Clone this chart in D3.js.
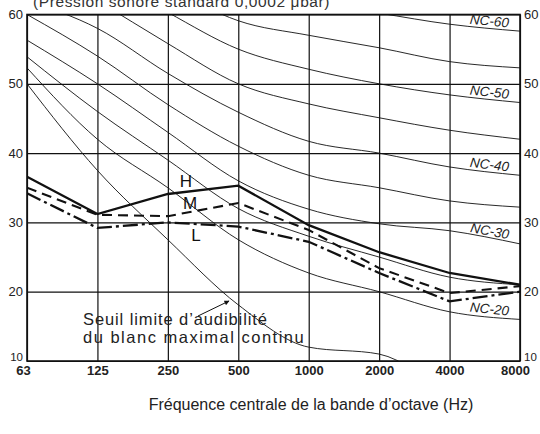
<!DOCTYPE html>
<html>
<head>
<meta charset="utf-8">
<script src="https://cdn.jsdelivr.net/npm/d3@7/dist/d3.min.js"></script>
<style>
html,body{margin:0;padding:0;background:#fff;}
svg{display:block;}
</style>
</head>
<body>
<svg id="chart" width="540" height="434"></svg>
<script>
// ---------- data ----------
const bands = ["63","125","250","500","1000","2000","4000","8000"];
const yTicks = [10,20,30,40,50,60];

const nc60 = [80, 74, 69, 65, 61.8, 60.2, 58.6, 57.6];
const nc55 = [76, 70, 64, 59.1, 57.0, 55.2, 53.2, 52.3];
const nc50 = [72, 66, 60.3, 55.0, 52.1, 50.0, 48.4, 47.3];
const nc45 = [68, 62, 55.8, 50.0, 47.1, 45.1, 43.3, 42.0];
const nc40 = [62, 58, 51.5, 45.9, 41.7, 40.0, 38.0, 36.8];
const nc35 = [60, 54, 47, 41, 36.8, 35.0, 33.1, 32.2];
const nc30 = [56.3, 50, 43, 36, 31.9, 29.8, 28.8, 26.9];
const nc25 = [53.9, 46, 39, 32, 28, 25, 22.1, 21];
const nc20 = [52.3, 42, 35, 27.5, 22.7, 20, 17.1, 16];
const threshold = [50, 37.5, 27.5, 18.1, 12, 11, 6, 4];

const seriesH = [36.6, 31.2, 34.1, 35.3, 29.6, 25.7, 22.7, 21.0];
const seriesM = [35.0, 31.1, 30.9, 32.8, 28.9, 23.4, 19.8, 20.8];
const seriesL = [34.2, 29.2, 30.0, 29.4, 27.2, 22.7, 18.6, 20.0];

const ncCurves = [nc60, nc55, nc50, nc45, nc40, nc35, nc30, nc25, nc20];
const ncLabels = [["NC-60", nc60], ["NC-50", nc50], ["NC-40", nc40], ["NC-30", nc30], ["NC-20", nc20]];

// ---------- layout ----------
const svg = d3.select("#chart");
const L = 27, R = 520, T = 14.5, B = 361;
const x = d3.scalePoint().domain(bands).range([L, R]);
const y = d3.scaleLinear().domain([10, 60]).range([B, T]);
const ink = "#111";
const font = "'Liberation Sans', Arial, sans-serif";

// title (partly cut off at top, as in the original scan)
svg.append("text").attr("x", 33).attr("y", 7)
  .attr("font-family", font).attr("font-size", 15.5).attr("fill", "#333")
  .attr("letter-spacing", 0.6)
  .text("(Pression sonore standard 0,0002 μbar)");

// clip
svg.append("defs").append("clipPath").attr("id", "plot")
  .append("rect").attr("x", L).attr("y", T).attr("width", R - L).attr("height", B - T);

// grid
const gx = svg.append("g").attr("transform", `translate(0,${B})`)
  .call(d3.axisBottom(x).tickSize(-(B - T)).tickFormat(""));
gx.select(".domain").remove();
gx.selectAll("line").attr("stroke", ink).attr("stroke-width", 1.2);

const gy = svg.append("g").attr("transform", `translate(${L},0)`)
  .call(d3.axisLeft(y).tickValues(yTicks).tickSize(-(R - L)).tickFormat(""));
gy.select(".domain").remove();
gy.selectAll("line").attr("stroke", ink).attr("stroke-width", 1.2);

// tick labels
const xl = svg.append("g").attr("transform", `translate(0,${B})`)
  .call(d3.axisBottom(x).tickSize(0).tickPadding(5));
xl.select(".domain").remove();
xl.selectAll("text").attr("font-family", font).attr("font-size", 13)
  .attr("font-weight", "bold").attr("fill", "#222")
  .attr("dx", (d, i) => i === 0 ? -4 : (i === bands.length - 1 ? -5 : 0));

const yl = svg.append("g").attr("transform", `translate(${L},0)`)
  .call(d3.axisLeft(y).tickValues(yTicks).tickSize(0).tickPadding(4));
yl.select(".domain").remove();
yl.selectAll("text").attr("font-family", font).attr("font-size", d => d === 10 ? 11.5 : 13)
  .attr("fill", "#222").attr("dy", d => d === 10 ? "-0.05em" : "0.32em");

const yr = svg.append("g").attr("transform", `translate(${R},0)`)
  .call(d3.axisRight(y).tickValues(yTicks).tickSize(0).tickPadding(4));
yr.select(".domain").remove();
yr.selectAll("text").attr("font-family", font).attr("font-size", d => d === 10 ? 11.5 : 13)
  .attr("fill", "#222").attr("dy", d => d === 10 ? "-0.05em" : "0.32em");

// curves
const plot = svg.append("g").attr("clip-path", "url(#plot)");
const smooth = d3.line().x((d, i) => x(bands[i])).y(d => y(d)).curve(d3.curveMonotoneX);
const straight = d3.line().x((d, i) => x(bands[i])).y(d => y(d));

plot.selectAll("path.nc").data(ncCurves).join("path").attr("class", "nc")
  .attr("d", smooth).attr("fill", "none").attr("stroke", ink).attr("stroke-width", 0.9);

plot.append("path").attr("d", smooth(threshold)).attr("fill", "none")
  .attr("stroke", ink).attr("stroke-width", 0.9);

plot.append("path").attr("d", straight(seriesH)).attr("fill", "none")
  .attr("stroke", ink).attr("stroke-width", 2.3);
plot.append("path").attr("d", straight(seriesM)).attr("fill", "none")
  .attr("stroke", ink).attr("stroke-width", 2.1).attr("stroke-dasharray", "10,6");
plot.append("path").attr("d", straight(seriesL)).attr("fill", "none")
  .attr("stroke", ink).attr("stroke-width", 2.3).attr("stroke-dasharray", "15,4,3,4");

// frame
svg.append("rect").attr("x", L).attr("y", T).attr("width", R - L).attr("height", B - T)
  .attr("fill", "none").attr("stroke", ink).attr("stroke-width", 1.6);

// NC labels
const x4 = x("4000"), x8 = x("8000");
ncLabels.forEach(([name, vals]) => {
  const y4 = y(vals[6]), y8 = y(vals[7]);
  const cx = 489;
  const cy = y4 + (y8 - y4) * (cx - x4) / (x8 - x4) - 2.5;
  const ang = Math.atan2(y8 - y4, x8 - x4) * 180 / Math.PI;
  svg.append("text").attr("x", cx).attr("y", cy)
    .attr("text-anchor", "middle").attr("font-family", font)
    .attr("font-style", "italic").attr("font-size", 13.5).attr("fill", "#222")
    .attr("transform", `rotate(${ang},${cx},${cy})`).text(name);
});

// H M L labels
[["H", 186, 187], ["M", 190, 209], ["L", 196, 241]].forEach(([t, tx, ty]) => {
  svg.append("text").attr("x", tx).attr("y", ty).attr("text-anchor", "middle")
    .attr("font-family", font).attr("font-size", 17).attr("fill", "#111").text(t);
});

// threshold annotation
svg.append("text").attr("x", 83).attr("y", 325).attr("font-family", font)
  .attr("font-size", 16.5).attr("letter-spacing", 0.9).attr("fill", "#222")
  .text("Seuil limite d’audibilité");
svg.append("text").attr("x", 83).attr("y", 343).attr("font-family", font)
  .attr("font-size", 16.5).attr("letter-spacing", 1.5).attr("fill", "#222")
  .text("du blanc maximal continu");
svg.append("defs").append("marker").attr("id", "arr").attr("viewBox", "0 0 10 10")
  .attr("refX", 9).attr("refY", 5).attr("markerWidth", 7).attr("markerHeight", 5)
  .attr("orient", "auto").append("path").attr("d", "M0,0L10,5L0,10z").attr("fill", ink);
svg.append("line").attr("x1", 198).attr("y1", 316).attr("x2", 229).attr("y2", 301)
  .attr("stroke", ink).attr("stroke-width", 1).attr("marker-end", "url(#arr)");

// x axis title
svg.append("text").attr("x", 311).attr("y", 410).attr("text-anchor", "middle")
  .attr("font-family", font).attr("font-size", 16).attr("fill", "#222")
  .text("Fréquence centrale de la bande d’octave (Hz)");
</script>
</body>
</html>
